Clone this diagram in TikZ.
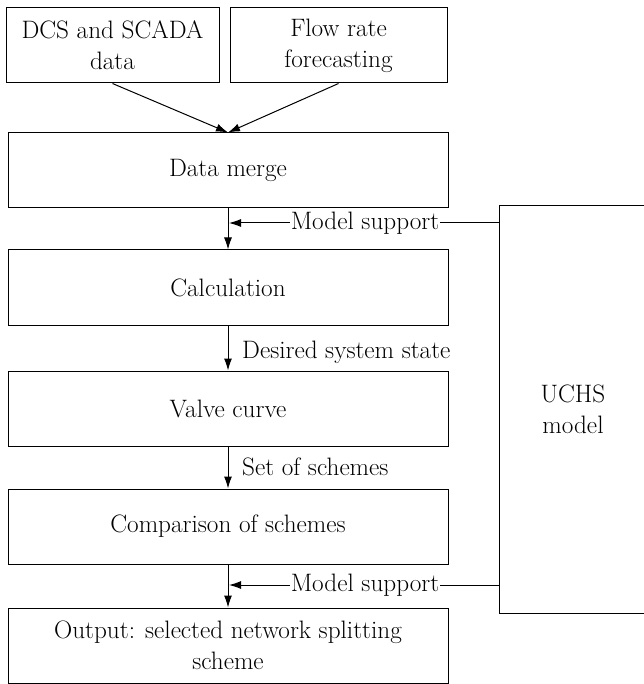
\documentclass[tikz,border=0pt]{standalone}
\usetikzlibrary{arrows.meta}
\begin{document}
\begin{tikzpicture}[x=1pt,y=-1pt,
  every node/.style={font=\rmfamily\fontsize{25.2}{31}\selectfont},
  box/.style={draw, line width=1pt, inner sep=0pt, align=center, minimum height=75pt},
  lbl/.style={inner sep=1pt},
  arr/.style={line width=1pt, -{Latex[length=12pt,width=8pt]}},
  ln/.style={line width=1pt}]
\useasboundingbox (0,0) rectangle (643,684);
\node[box, minimum width=213pt] (dcs) at (112.5,45.5) {DCS and SCADA\\data};
\node[box, minimum width=217pt] (flow) at (338.5,45.5) {Flow rate\\forecasting};
\node[box, minimum width=440pt] (merge) at (228,170.5) {Data merge};
\node[box, minimum width=440pt] (calc) at (228,287.5) {Calculation};
\node[box, minimum width=440pt] (valve) at (228,408.5) {Valve curve};
\node[box, minimum width=440pt] (comp) at (228,526.5) {Comparison of schemes};
\node[box, minimum width=440pt] (out) at (228,645.5) {Output: selected network splitting\\scheme};
\node[box, minimum width=148pt, minimum height=407pt] (uchs) at (573,409.5) {UCHS\\model};
\node[lbl] (ms1) at (365,223) {Model support};
\node[lbl] (ms2) at (365,585) {Model support};
\node[lbl, anchor=west] (dss) at (241,352) {Desired system state};
\node[lbl, anchor=west] (sos) at (241,467) {Set of schemes};
\coordinate (t1) at (229,223);
\coordinate (t2) at (229,585);
\draw[arr] (dcs.south) -- (merge.north);
\draw[arr] (flow.south) -- (merge.north);
\draw[arr] (merge.south) -- (calc.north);
\draw[arr] (calc.south) -- (valve.north);
\draw[arr] (valve.south) -- (comp.north);
\draw[arr] (comp.south) -- (out.north);
\draw[ln] (uchs.west |- ms1) -- (ms1.east);
\draw[ln] (uchs.west |- ms2) -- (ms2.east);
\draw[arr] (ms1.west) -- (t1);
\draw[arr] (ms2.west) -- (t2);
\end{tikzpicture}
\end{document}
